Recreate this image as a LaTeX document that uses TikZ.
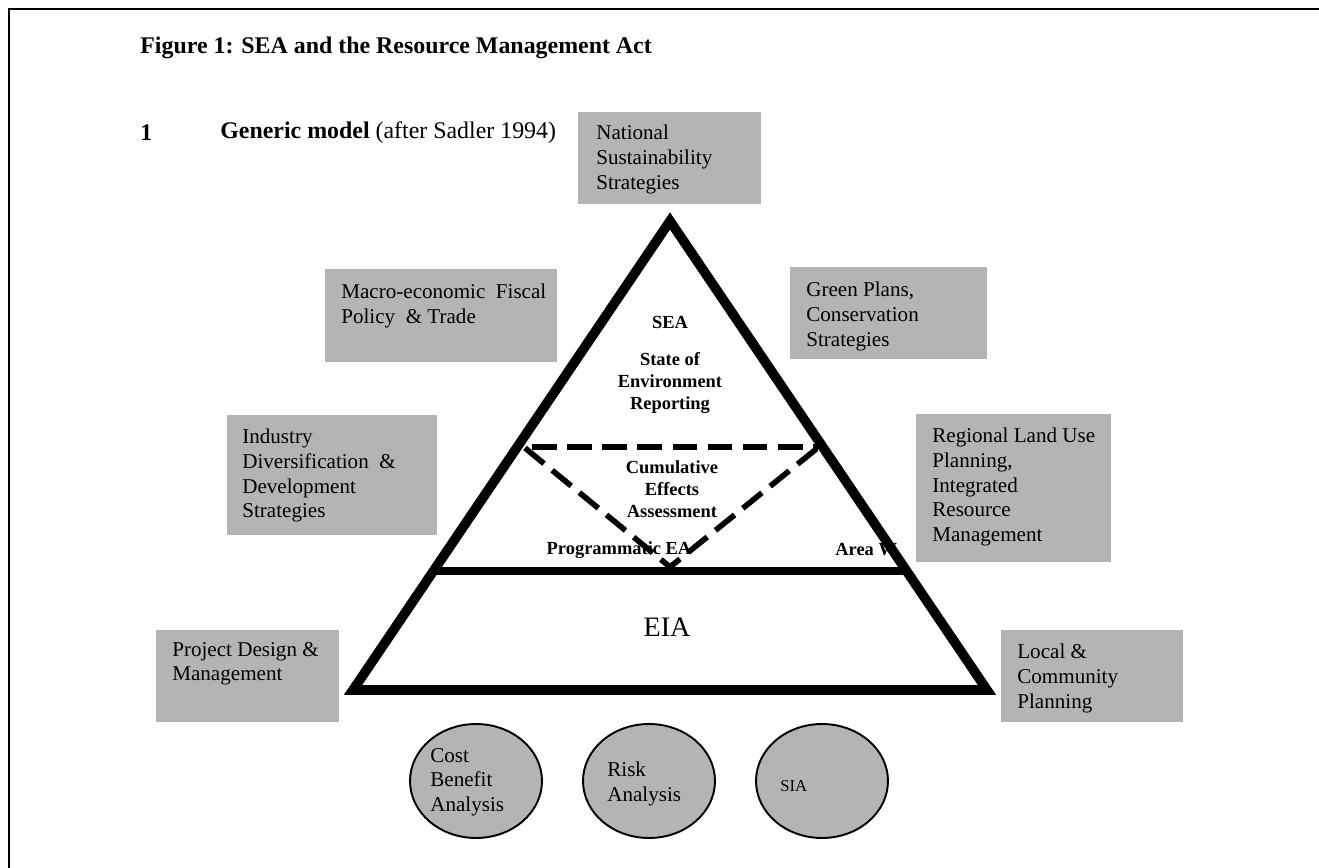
\documentclass[tikz,border=0pt]{standalone}
\usepackage{fontspec}
\setmainfont{Liberation Serif}
\definecolor{boxgray}{RGB}{180,180,180}
\tikzset{every path/.style={black}, every node/.style={inner sep=0pt, align=left, font=\fontsize{12}{14}\selectfont},
   gbox/.style={fill=boxgray},
   btext/.style={anchor=north west},
   oval/.style={fill=boxgray, draw=black, line width=1.1pt},
   pyr/.style={line width=5.5pt, line join=miter},
   cea/.style={line width=3.2pt, dash pattern=on 14pt off 6pt},
   inlabel/.style={align=center, font=\fontsize{10.5}{12.5}\selectfont\bfseries}}

\begin{document}
\begin{tikzpicture}[x=0.02cm,y=-0.02cm]
   \useasboundingbox (0,0) rectangle (1319,868);
   \draw[line width=1.2pt] (9,868) -- (9,9) -- (1319,9);
   \node[anchor=west, font=\fontsize{13.6}{15}\selectfont\bfseries] (title) at (140,48) {Figure 1: SEA and the Resource Management Act};
   \node[anchor=west, font=\fontsize{13.6}{15}\selectfont\bfseries] (num) at (140,133) {1};
   \node[anchor=west, font=\fontsize{13.6}{15}\selectfont] (model) at (220,133) {\textbf{Generic model} (after Sadler 1994)};
   \begin{scope}
      \fill[gbox] ( 578,112) rectangle ( 761,204);
      \fill[gbox] ( 325,269) rectangle ( 557,362);
      \fill[gbox] ( 790,267) rectangle ( 987,359);
      \fill[gbox] ( 227,415) rectangle ( 437,535);
      \fill[gbox] ( 916,414) rectangle (1111,562);
      \fill[gbox] (1001,630) rectangle (1183,722);
      \fill[gbox] ( 156,630) rectangle ( 339,722);
      \node[btext] (nss)  at ( 596,125) {National\\Sustainability\\Strategies};
      \node[btext] (mac)  at ( 341,284) {Macro-economic~ Fiscal\\Policy~ \& Trade};
      \node[btext] (grn)  at ( 806,282) {Green Plans,\\Conservation\\Strategies};
      \node[btext] (ind)  at ( 242,429) {Industry\\Diversification~ \&\\Development\\Strategies};
      \node[btext] (reg)  at ( 932,428) {Regional Land Use\\Planning,\\Integrated\\Resource\\Management};
      \node[btext] (loc)  at (1017,644) {Local \&\\Community\\Planning};
      \node[btext] (prj)  at ( 172,642) {Project Design \&\\Management};
   \end{scope}
   \begin{scope}
      \foreach \x in {476,649,822} {
         \draw[oval] (\x,781) ellipse [x radius=1.32cm, y radius=1.14cm];
      }
      \node[btext] (cba)  at ( 430,748) {Cost\\Benefit\\Analysis};
      \node[btext] (risk) at ( 607,762) {Risk\\Analysis};
      \node[anchor=west, font=\fontsize{9.5}{11}\selectfont] (sia) at (780,786) {SIA};
   \end{scope}
   \node[inlabel] (sea)  at (670,322) {SEA};
   \node[inlabel] (soe)  at (670,383) {State of\\Environment\\Reporting};
   \node[inlabel] (cum)  at (672,489) {Cumulative\\Effects\\Assessment};
   \node[inlabel] (pea)  at (619,550) {Programmatic EA};
   \node[inlabel, anchor=west] (area) at (835,550) {Area W};
   \node[font=\fontsize{16}{18}\selectfont] (eia) at (667,627) {EIA};
   \begin{scope}
      \coordinate (top) at (670,221);
      \coordinate (br)  at (987,690);
      \coordinate (bl)  at (353,690);
      \draw[pyr] (top) -- (br) -- (bl) -- cycle;
      \draw[line width=4.5pt] (433,571) -- (907,571);
      \draw[cea] (532,447) -- (818,447);
      \draw[cea] (525,448) -- (670,567) -- (820,446);
   \end{scope}
\end{tikzpicture}
\end{document}
